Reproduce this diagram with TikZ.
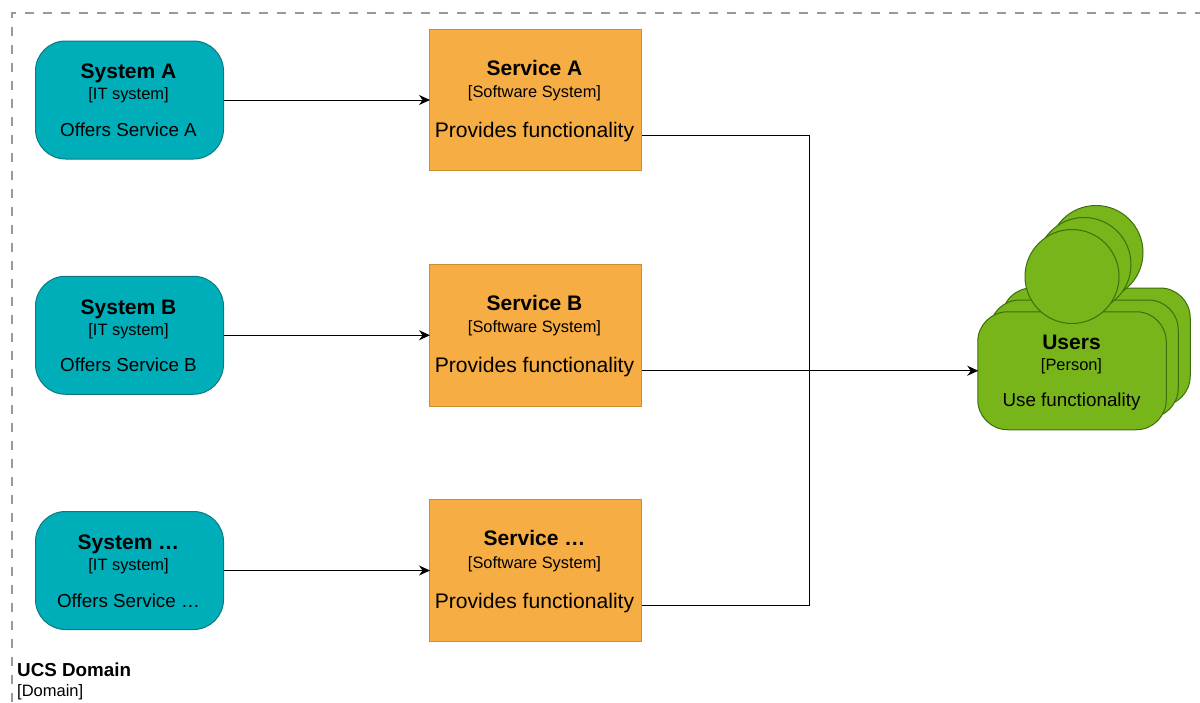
\documentclass[tikz,border=0pt]{standalone}
\usepackage{fontspec}
\setmainfont{Liberation Sans}
\usetikzlibrary{arrows.meta}
\definecolor{teal1}{HTML}{00AEB9}
\definecolor{teal2}{HTML}{0B7A80}
\definecolor{orange1}{HTML}{F6AD43}
\definecolor{orange2}{HTML}{C98F35}
\definecolor{green1}{HTML}{78B51B}
\definecolor{green2}{HTML}{3B6E0C}
\tikzset{
  x=1pt,y=-1pt,
  sysbox/.style={draw=teal2,fill=teal1,line width=1pt,rounded corners=30pt,minimum width=188pt,minimum height=118pt,inner sep=0pt},
  svcbox/.style={draw=orange2,fill=orange1,line width=1pt,minimum width=212pt,minimum height=141.5pt,inner sep=0pt},
  userbody/.style={draw=green2,fill=green1,line width=1pt,rounded corners=30pt,minimum width=188.5pt,minimum height=118pt,inner sep=0pt},
  userhead/.style={circle,draw=green2,fill=green1,line width=1pt,minimum size=94pt,inner sep=0pt},
  lbl/.style={inner sep=0pt,text=black,anchor=base},
  ttl/.style={lbl,font=\fontsize{21}{25}\selectfont\bfseries},
  sub/.style={lbl,font=\fontsize{16.4}{19}\selectfont},
  dsc/.style={lbl,font=\fontsize{18.8}{22}\selectfont},
  dsc2/.style={lbl,font=\fontsize{21.1}{25}\selectfont},
  flow/.style={draw=black,line width=1pt,shorten >=-1pt,-{Stealth[length=11pt,width=10pt]}},
  plain/.style={draw=black,line width=1pt},
  frame/.style={draw=black!40,line width=1.2pt,dash pattern=on 9pt off 9pt},
}
\begin{document}
\begin{tikzpicture}
\useasboundingbox (0,0) rectangle (1200,702);
\fill[white] (0,0) rectangle (1200,702);
\coordinate (fa) at (12,702);
\coordinate (fb) at (12,13);
\coordinate (fc) at (1200,13);
\draw[frame] (fa) -- (fb) -- (fc);
% systems
\node[sysbox] (sysa) at (129.5,100) {};
\node[sysbox] (sysb) at (129.5,335.25) {};
\node[sysbox] (sysc) at (129.5,570.5) {};
\node[ttl] (sysat) at (128.5,78) {System A};
\node[sub] (sysas) at (128.5,99) {[IT system]};
\node[dsc] (sysad) at (128.5,136) {Offers Service A};
\node[ttl] (sysbt) at (128.5,314) {System B};
\node[sub] (sysbs) at (128.5,335) {[IT system]};
\node[dsc] (sysbd) at (128.5,371) {Offers Service B};
\node[ttl] (sysct) at (128.5,549) {System …};
\node[sub] (syscs) at (128.5,570) {[IT system]};
\node[dsc] (syscd) at (128.5,607) {Offers Service …};
% services
\node[svcbox] (sva) at (535.5,100) {};
\node[svcbox] (svb) at (535.5,335.25) {};
\node[svcbox] (svc) at (535.5,570.5) {};
\node[ttl] (svat) at (534.5,75) {Service A};
\node[sub] (svas) at (534.5,97) {[Software System]};
\node[dsc2] (svad) at (534.5,137) {Provides functionality};
\node[ttl] (svbt) at (534.5,310) {Service B};
\node[sub] (svbs) at (534.5,332) {[Software System]};
\node[dsc2] (svbd) at (534.5,372) {Provides functionality};
\node[ttl] (svct) at (534.5,545) {Service …};
\node[sub] (svcs) at (534.5,568) {[Software System]};
\node[dsc2] (svcd) at (534.5,608) {Provides functionality};
% users
\node[userbody] (ub3) at (1096,347) {};
\node[userhead] (uh3) at (1096,252.5) {};
\node[userbody] (ub2) at (1084,359) {};
\node[userhead] (uh2) at (1084,264.5) {};
\node[userbody] (ub1) at (1072,370.75) {};
\node[userhead] (uh1) at (1072,276.5) {};
\node[ttl] (ut) at (1071.5,349) {Users};
\node[sub] (us) at (1071.5,370) {[Person]};
\node[dsc] (ud) at (1071.5,406) {Use functionality};
% domain label
\node[inner sep=0pt,anchor=base west,font=\fontsize{18.8}{22}\selectfont\bfseries] (dt) at (17,676) {UCS Domain};
\node[inner sep=0pt,anchor=base west,font=\fontsize{16.5}{19}\selectfont] (ds) at (17,696) {[Domain]};
% connectors
\coordinate (oa) at ([yshift=-35pt]sva.east);
\coordinate (ob) at ([yshift=-35.5pt]svb.east);
\coordinate (oc) at ([yshift=-35pt]svc.east);
\coordinate (ja) at (809.5,135);
\coordinate (jc) at (809.5,605.5);
\draw[flow] (sysa.east) -- (sva.west);
\draw[flow] (sysb.east) -- (svb.west);
\draw[flow] (sysc.east) -- (svc.west);
\draw[plain] (oa) -- (ja) -- (jc) -- (oc);
\draw[flow] (ob) -- (ub1.west);
\end{tikzpicture}
\end{document}
